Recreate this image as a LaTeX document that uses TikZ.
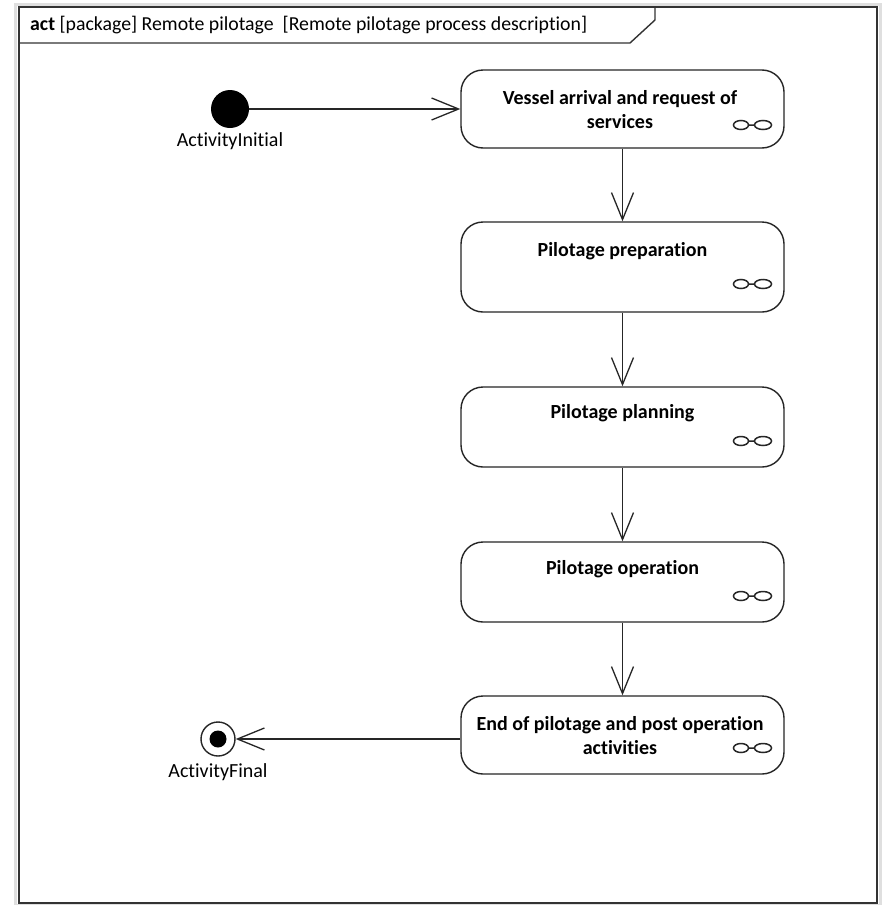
\documentclass[tikz,border=0pt]{standalone}
\usepackage{fontspec}
\setmainfont{Carlito}[Ligatures=NoCommon]
\usetikzlibrary{arrows.meta}
\tikzset{
  actbox/.style={draw=black!85, line width=1.4pt, rounded corners=22pt, fill=white,
    minimum width=323pt, inner sep=0pt},
  acttext/.style={font=\fontsize{20}{24}\selectfont\bfseries, align=center, inner sep=0pt},
  lbl/.style={font=\fontsize{20}{24}\selectfont, inner sep=0pt},
  flow/.style={draw=black!85, line width=1.3pt, -{Straight Barb[length=27pt,width=22pt,line width=1.3pt]}},
  rake/.pic={\draw[black!85, line width=1.5pt] (-11,0) ellipse [x radius=7.5pt, y radius=4.5pt]
      (11,0) ellipse [x radius=8.5pt, y radius=4.5pt] (-3.5,0) -- (2.5,0);}
}
\begin{document}
\begin{tikzpicture}[x=1pt,y=-1pt]
\useasboundingbox[fill=white] (0,0) rectangle (884,905);
% frame
\draw[gray!25, line width=3pt] (15.5,4) rectangle (880.5,905);
\draw[black!80, line width=2pt] (19,7) rectangle (877,903);
\draw[black!80, line width=1.4pt] (19,43) -- (630,43) -- (655,20) -- (655,7);
\node[anchor=west, inner sep=0pt, font=\fontsize{19.8}{24}\selectfont] (hdr) at (30,25)
  {\textbf{act} [package] Remote pilotage\ \ [Remote pilotage process description]};
% initial / final
\node[circle, fill=black, minimum size=38pt, inner sep=0pt] (init) at (230,109) {};
\node[lbl] (initl) at (230,141) {ActivityInitial};
\node[circle, draw=black!85, line width=1.4pt, fill=white, minimum size=34pt, inner sep=0pt] (fin) at (218,739) {};
\node[circle, fill=black, minimum size=17pt, inner sep=0pt] (finin) at (fin) {};
\node[lbl] (finl) at (218,772) {ActivityFinal};
% boxes
\node[actbox, minimum height=78pt] (b1) at (622.5,109) {};
\node[acttext] (t1) at (620,110) {Vessel arrival and request of\\services};
\pic at (752,125) {rake};
\node[actbox, minimum height=90pt] (b2) at (622.5,267) {};
\node[acttext] (t2) at (622.5,251) {Pilotage preparation};
\pic at (752,284) {rake};
\node[actbox, minimum height=80pt] (b3) at (622.5,427) {};
\node[acttext] (t3) at (622.5,413) {Pilotage planning};
\pic at (752,441) {rake};
\node[actbox, minimum height=80pt] (b4) at (622.5,582) {};
\node[acttext] (t4) at (622.5,569) {Pilotage operation};
\pic at (752,596) {rake};
\node[actbox, minimum height=78pt] (b5) at (622.5,735) {};
\node[acttext] (t5) at (620,736) {End of pilotage and post operation\\activities};
\pic at (752,748) {rake};
% flows
\draw[flow] (init) -- (b1);
\draw[flow] (b1) -- (b2);
\draw[flow] (b2) -- (b3);
\draw[flow] (b3) -- (b4);
\draw[flow] (b4) -- (b5);
\draw[flow] (b5.west |- fin) -- (fin);
\end{tikzpicture}
\end{document}
